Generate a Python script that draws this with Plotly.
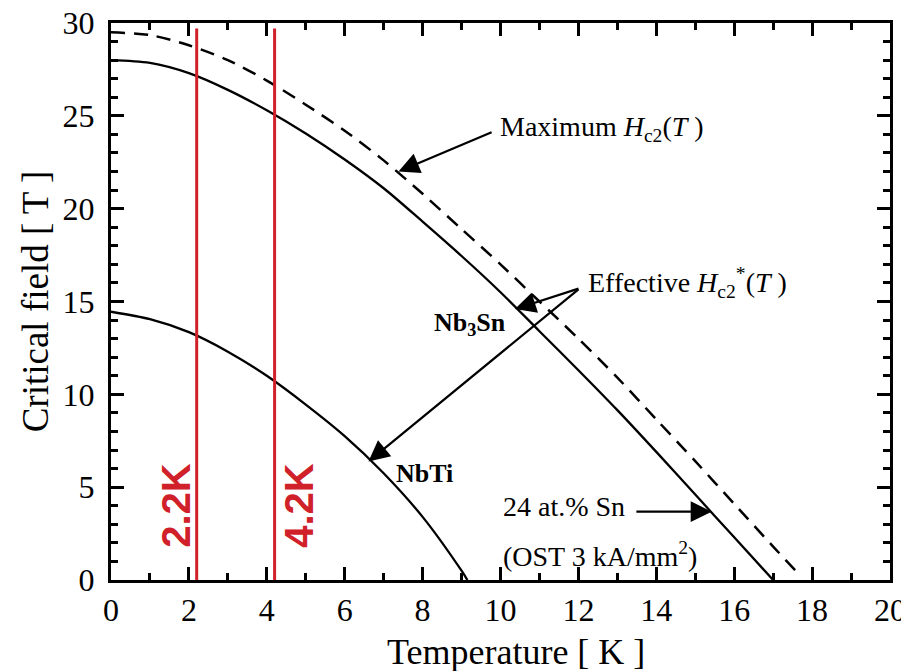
import plotly.graph_objects as go

# ---- data ----
nb3sn_T = [0, 1, 2, 3, 4, 5, 6, 7, 8, 9, 10, 11, 12, 13, 14, 15, 16, 17]
nb3sn_B = [28.0, 27.85, 27.3, 26.4, 25.3, 24.05, 22.65, 21.1, 19.3, 17.45, 15.5, 13.4, 11.3, 9.15, 6.9, 4.6, 2.3, 0.0]

max_T = [0, 1, 2, 3, 4, 5, 6, 7, 8, 9, 10, 11, 12, 13, 14, 15, 16, 17, 17.6]
max_B = [29.5, 29.35, 28.8, 28.0, 26.9, 25.6, 24.2, 22.6, 20.8, 18.9, 17.0, 15.0, 13.0, 10.9, 8.65, 6.4, 4.1, 1.8, 0.45]

nbti_T = [0, 1, 2, 3, 4, 5, 6, 7, 8, 9, 9.15]
nbti_B = [14.45, 14.05, 13.35, 12.3, 11.0, 9.45, 7.75, 5.75, 3.4, 0.5, 0.0]

bath_T = [2.2, 4.2]
bath_labels = ["2.2K", "4.2K"]
bath_top = 29.7

x_ticks = [0, 2, 4, 6, 8, 10, 12, 14, 16, 18, 20]
y_ticks = [0, 5, 10, 15, 20, 25, 30]

SERIF = "Liberation Serif, Times New Roman, serif"
RED = "#d0202a"

fig = go.Figure()

fig.add_trace(go.Scatter(x=max_T, y=max_B, mode="lines",
                         line=dict(color="black", width=2.5, dash="14px,9px", shape="spline", smoothing=0.8),
                         showlegend=False))
fig.add_trace(go.Scatter(x=nb3sn_T, y=nb3sn_B, mode="lines",
                         line=dict(color="black", width=2.3, shape="spline", smoothing=0.9),
                         showlegend=False))
fig.add_trace(go.Scatter(x=nbti_T, y=nbti_B, mode="lines",
                         line=dict(color="black", width=2.3, shape="spline", smoothing=0.8),
                         showlegend=False))
for t in bath_T:
    fig.add_trace(go.Scatter(x=[t, t], y=[0, bath_top], mode="lines",
                             line=dict(color=RED, width=3), showlegend=False))

ARROW = dict(arrowhead=2, arrowsize=1.9, arrowwidth=2.2, arrowcolor="black", standoff=0, startstandoff=0)
ann = []

def text(x, y, s, size=28):
    ann.append(dict(x=x, y=y, xref="x", yref="y", text=s, showarrow=False,
                    xanchor="left", yanchor="middle",
                    font=dict(family=SERIF, size=size, color="black")))

def arrow(x0, y0, x1, y1):
    ann.append(dict(x=x1, y=y1, ax=x0, ay=y0, xref="x", yref="y", axref="x", ayref="y",
                    text="", showarrow=True, **ARROW))

text(9.93, 24.3, "Maximum <i>H</i><sub>c2</sub>(<i>T</i> )")
arrow(9.81, 24.15, 7.38, 22.0)
text(12.2, 16.0, "Effective <i>H</i><sub>c2</sub><sup>*</sup>(<i>T</i> )")
arrow(12.04, 15.72, 10.37, 14.59)
arrow(12.04, 15.72, 6.61, 6.38)
text(10.0, 3.94, "24 at.% Sn")
arrow(13.45, 3.68, 15.42, 3.68)
text(10.0, 1.35, "(OST 3 kA/mm<sup>2</sup>)")
text(8.25, 13.8, "<b>Nb<sub>3</sub>Sn</b>", size=26)
text(7.27, 5.71, "<b>NbTi</b>", size=26)

label_x = [1.67, 4.83]
for xx, lab in zip(label_x, bath_labels):
    ann.append(dict(x=xx, y=4.0, xref="x", yref="y", text="<b>" + lab + "</b>", showarrow=False,
                    textangle=-90, xanchor="center", yanchor="middle",
                    font=dict(family="Liberation Sans, Arial, sans-serif", size=40, color=RED)))

# x-axis title (placed slightly right of centre, as in the reference)
ann.append(dict(x=0.52, y=-0.129, xref="paper", yref="paper", text="Temperature [ K ]",
                showarrow=False, xanchor="center", yanchor="middle",
                font=dict(family=SERIF, size=36, color="black")))

# the page body offsets the figure by 8px, so margins are reduced by 8px on left/top
fig.update_layout(
    width=909, height=671,
    margin=dict(l=103, r=27, t=15, b=99, autoexpand=False),
    paper_bgcolor="white", plot_bgcolor="white",
    showlegend=False,
    annotations=ann,
    font=dict(family=SERIF, color="black"),
)
axis_common = dict(showgrid=False, zeroline=False, showline=True, linecolor="black", linewidth=3,
                   mirror="allticks", ticks="inside", ticklen=13, tickwidth=2.5, tickcolor="black",
                   automargin=False, ticklabeloverflow="allow",
                   tickfont=dict(family=SERIF, size=32, color="black"))
fig.update_xaxes(range=[0, 20], tickvals=x_ticks, ticktext=[str(v) for v in x_ticks],
                 ticklabelstandoff=0,
                 minor=dict(dtick=1, ticks="inside", ticklen=7, tickwidth=2.5, tickcolor="black"),
                 **axis_common)
fig.update_yaxes(range=[0, 30], tickvals=y_ticks, ticktext=[str(v) for v in y_ticks],
                 ticklabelstandoff=7,
                 minor=dict(dtick=1, ticks="inside", ticklen=7, tickwidth=2.5, tickcolor="black"),
                 title=dict(text="Critical field [ T ]", font=dict(family=SERIF, size=37), standoff=3),
                 **axis_common)

fig.write_html("out.html")
